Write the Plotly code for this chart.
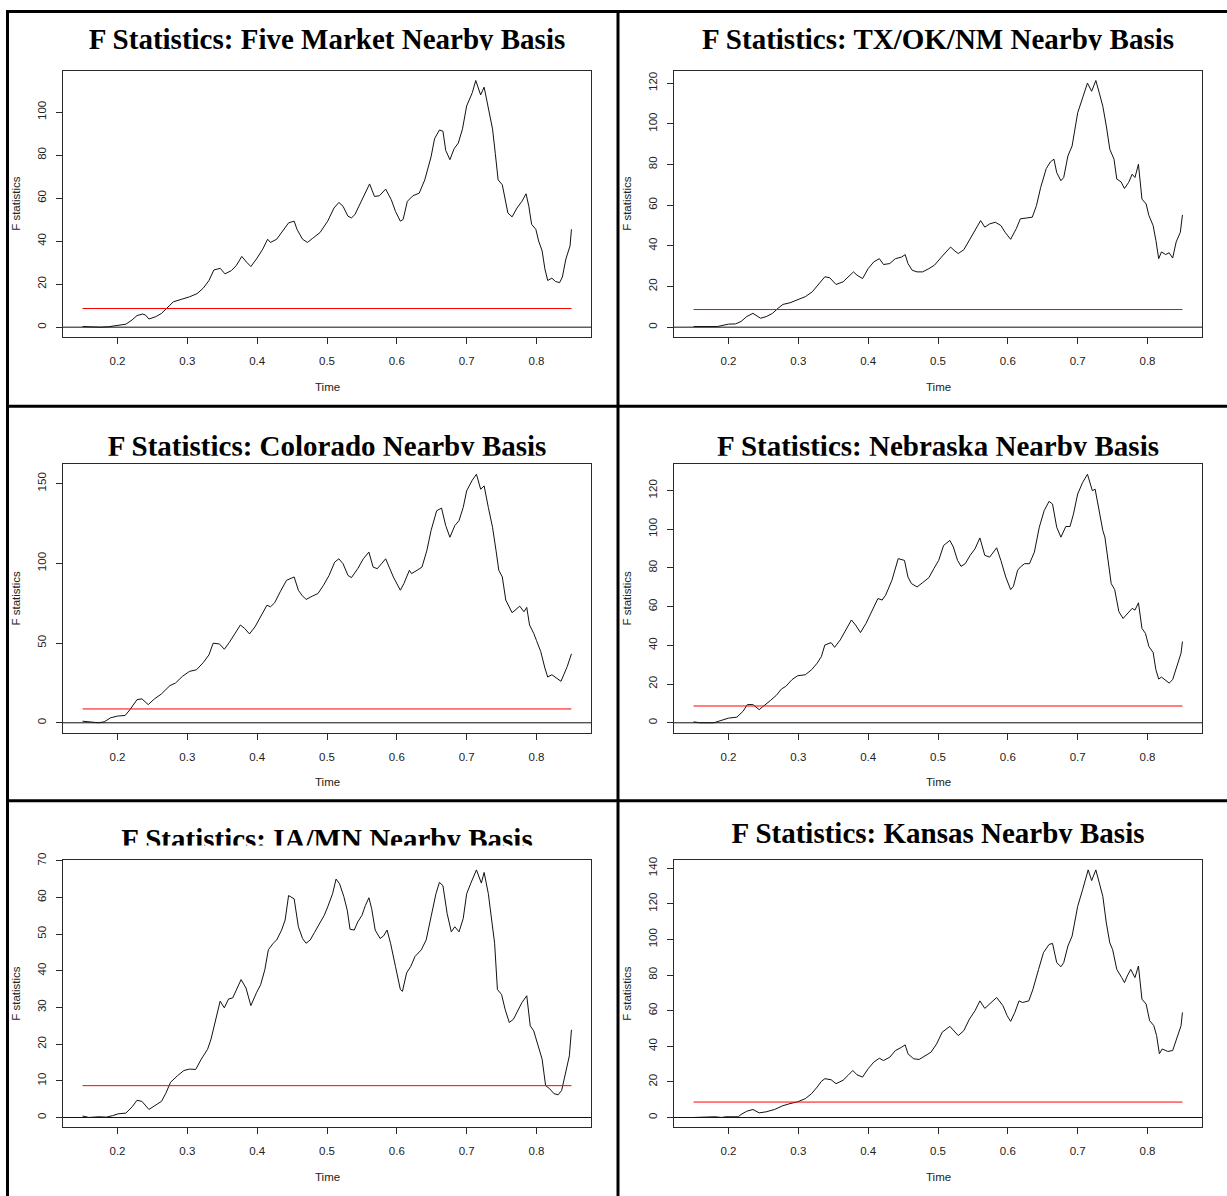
import plotly.graph_objects as go

# ---- sup-F statistics against the trimmed sample fraction (Time) ----
five_t = [0.150, 0.157, 0.165, 0.175, 0.187, 0.200, 0.212, 0.221, 0.228, 0.236, 0.240, 0.245, 0.255, 0.263,
          0.272, 0.280, 0.292, 0.303, 0.314, 0.323, 0.331, 0.338, 0.344, 0.347, 0.354, 0.363, 0.370, 0.378,
          0.385, 0.391, 0.399, 0.408, 0.415, 0.419, 0.428, 0.435, 0.445, 0.453, 0.457, 0.465, 0.472, 0.479,
          0.490, 0.501, 0.510, 0.517, 0.523, 0.530, 0.535, 0.540, 0.547, 0.555, 0.561, 0.568, 0.575, 0.584,
          0.592, 0.598, 0.605, 0.609, 0.615, 0.623, 0.632, 0.640, 0.649, 0.654, 0.661, 0.666, 0.670, 0.676,
          0.682, 0.688, 0.694, 0.700, 0.708, 0.713, 0.720, 0.725, 0.731, 0.737, 0.741, 0.745, 0.751, 0.755,
          0.759, 0.765, 0.772, 0.779, 0.785, 0.789, 0.793, 0.799, 0.803, 0.808, 0.812, 0.816, 0.822, 0.827,
          0.833, 0.837, 0.842, 0.848, 0.850]
five_f = [0.3, 0.2, 0.0, 0.0, 0.2, 0.8, 1.4, 3.4, 5.4, 6.1, 5.7, 3.8, 4.9, 6.4, 9.5, 11.8, 13.0, 14.1, 15.6,
          18.2, 21.7, 26.6, 27.1, 27.4, 24.8, 26.3, 28.6, 32.9, 30.2, 28.2, 31.7, 36.3, 40.9, 39.4, 40.9, 44.0,
          48.5, 49.3, 45.5, 40.9, 39.4, 41.2, 44.0, 49.3, 55.4, 58.0, 56.2, 51.6, 50.8, 52.4, 57.0, 62.3, 66.6,
          60.8, 61.1, 64.2, 59.3, 53.9, 49.3, 50.1, 58.5, 61.1, 62.3, 68.5, 79.2, 87.6, 91.7, 91.1, 82.2, 77.9,
          83.0, 85.6, 92.2, 102.9, 109.0, 114.7, 108.0, 111.6, 102.1, 92.2, 80.7, 68.5, 66.2, 60.0, 53.1, 51.3,
          55.4, 58.5, 62.0, 56.2, 47.8, 45.5, 40.1, 35.5, 27.1, 21.7, 22.8, 21.3, 20.7, 23.3, 31.7, 37.8, 45.5]

txoknm_t = [0.150, 0.157, 0.170, 0.184, 0.200, 0.210, 0.218, 0.226, 0.235, 0.239, 0.246, 0.254, 0.263, 0.271,
            0.278, 0.288, 0.299, 0.310, 0.320, 0.330, 0.338, 0.345, 0.354, 0.364, 0.372, 0.379, 0.384, 0.392,
            0.400, 0.408, 0.416, 0.422, 0.431, 0.439, 0.448, 0.453, 0.457, 0.463, 0.470, 0.478, 0.487, 0.495,
            0.505, 0.512, 0.518, 0.523, 0.529, 0.537, 0.546, 0.554, 0.561, 0.567, 0.574, 0.582, 0.590, 0.596,
            0.604, 0.612, 0.618, 0.627, 0.635, 0.641, 0.647, 0.655, 0.661, 0.666, 0.670, 0.676, 0.680, 0.686,
            0.692, 0.700, 0.707, 0.714, 0.720, 0.726, 0.731, 0.736, 0.741, 0.746, 0.752, 0.756, 0.762, 0.767,
            0.773, 0.778, 0.782, 0.787, 0.792, 0.798, 0.802, 0.808, 0.812, 0.816, 0.820, 0.826, 0.831, 0.836,
            0.841, 0.847, 0.850]
txoknm_f = [0.3, 0.3, 0.0, 0.3, 1.5, 1.6, 2.8, 5.2, 6.8, 6.0, 4.4, 5.2, 6.8, 9.3, 11.2, 12.0, 13.4, 15.0, 17.4,
            21.5, 24.8, 24.3, 21.0, 22.3, 24.8, 27.2, 25.6, 23.9, 28.8, 32.1, 33.7, 30.8, 31.3, 33.7, 34.5,
            35.7, 31.3, 28.0, 27.2, 27.2, 28.8, 30.5, 34.5, 37.0, 39.4, 37.8, 36.2, 38.1, 43.5, 48.0, 52.4,
            49.2, 50.8, 51.6, 50.0, 46.7, 43.2, 48.4, 53.3, 53.7, 54.1, 59.8, 68.7, 78.0, 81.3, 82.6, 76.0,
            72.0, 73.6, 84.2, 89.1, 105.4, 112.7, 120.0, 116.0, 121.3, 115.1, 108.6, 98.9, 87.5, 82.6, 72.8,
            71.5, 68.2, 71.2, 75.2, 73.6, 80.1, 63.0, 60.6, 54.9, 50.0, 42.7, 33.7, 37.0, 35.7, 36.6, 34.0,
            41.9, 46.7, 55.2]

colorado_t = [0.150, 0.161, 0.173, 0.181, 0.190, 0.200, 0.211, 0.218, 0.228, 0.235, 0.244, 0.253, 0.263, 0.275,
              0.283, 0.293, 0.303, 0.313, 0.323, 0.331, 0.337, 0.346, 0.353, 0.360, 0.368, 0.376, 0.382, 0.389,
              0.397, 0.405, 0.414, 0.419, 0.425, 0.433, 0.442, 0.453, 0.459, 0.464, 0.470, 0.479, 0.487, 0.495,
              0.503, 0.511, 0.517, 0.523, 0.530, 0.535, 0.544, 0.552, 0.560, 0.566, 0.572, 0.578, 0.584, 0.589,
              0.595, 0.605, 0.610, 0.618, 0.621, 0.629, 0.636, 0.643, 0.649, 0.657, 0.664, 0.670, 0.676, 0.683,
              0.689, 0.695, 0.700, 0.708, 0.714, 0.720, 0.725, 0.731, 0.737, 0.742, 0.746, 0.751, 0.756, 0.765,
              0.771, 0.776, 0.782, 0.786, 0.790, 0.796, 0.800, 0.806, 0.812, 0.816, 0.822, 0.829, 0.835, 0.839,
              0.844, 0.850]
colorado_f = [1.0, 0.6, 0.0, 0.6, 3.1, 4.2, 4.6, 8.3, 14.5, 15.0, 11.4, 15.0, 18.1, 23.3, 24.9, 29.1, 32.2,
              33.2, 37.8, 42.6, 49.9, 49.4, 46.1, 50.3, 56.1, 61.3, 59.2, 55.7, 60.2, 66.5, 73.7, 72.7, 75.2,
              82.1, 89.3, 91.4, 83.1, 80.0, 77.3, 79.4, 81.0, 86.2, 92.4, 100.7, 102.8, 99.7, 92.4, 91.0, 96.6,
              102.8, 107.0, 97.6, 96.6, 99.7, 102.8, 97.6, 91.4, 83.1, 87.2, 95.6, 93.5, 95.6, 97.6, 108.0,
              120.5, 132.9, 134.6, 123.6, 116.3, 123.6, 126.7, 135.0, 145.4, 152.1, 155.8, 146.4, 148.5, 135.0,
              122.6, 108.0, 95.6, 91.4, 76.9, 69.0, 71.0, 73.1, 69.6, 72.3, 61.3, 56.1, 51.5, 44.7, 34.3, 28.7,
              30.1, 28.0, 26.0, 30.1, 35.3, 43.2]

nebraska_t = [0.150, 0.159, 0.179, 0.190, 0.200, 0.212, 0.221, 0.227, 0.235, 0.244, 0.252, 0.260, 0.268, 0.276,
              0.282, 0.291, 0.299, 0.310, 0.319, 0.327, 0.333, 0.338, 0.347, 0.352, 0.360, 0.368, 0.376, 0.382,
              0.389, 0.397, 0.406, 0.414, 0.420, 0.425, 0.434, 0.443, 0.452, 0.457, 0.462, 0.470, 0.478, 0.487,
              0.494, 0.501, 0.508, 0.517, 0.522, 0.528, 0.533, 0.539, 0.546, 0.553, 0.560, 0.567, 0.574, 0.584,
              0.590, 0.597, 0.604, 0.608, 0.614, 0.618, 0.624, 0.631, 0.638, 0.645, 0.652, 0.659, 0.664, 0.670,
              0.676, 0.683, 0.689, 0.694, 0.700, 0.707, 0.714, 0.721, 0.725, 0.731, 0.736, 0.739, 0.745, 0.748,
              0.753, 0.759, 0.765, 0.773, 0.778, 0.782, 0.787, 0.792, 0.797, 0.802, 0.808, 0.812, 0.816, 0.820,
              0.826, 0.831, 0.836, 0.843, 0.848, 0.850]
nebraska_f = [0.5, 0.0, 0.0, 1.2, 2.4, 2.9, 6.0, 9.4, 9.4, 6.8, 9.4, 11.5, 14.0, 17.5, 18.8, 22.3, 24.3, 24.8,
              27.4, 30.8, 34.2, 40.2, 41.4, 39.0, 42.8, 47.9, 53.1, 50.5, 46.6, 51.4, 58.2, 64.2, 63.4, 65.9,
              73.6, 84.8, 83.9, 75.3, 71.9, 70.2, 72.4, 75.0, 79.6, 83.9, 91.6, 94.2, 90.8, 83.9, 80.8, 82.2,
              86.5, 89.9, 95.5, 86.5, 85.6, 90.4, 83.9, 75.3, 68.8, 70.5, 78.8, 80.5, 82.2, 82.2, 88.2, 101.0,
              109.6, 114.4, 113.0, 101.0, 95.9, 101.4, 101.4, 107.9, 118.2, 124.1, 128.4, 119.9, 120.7, 109.6,
              99.3, 95.9, 80.5, 71.9, 68.8, 57.4, 53.9, 57.4, 59.1, 58.2, 62.0, 48.8, 46.2, 39.4, 36.3, 27.4,
              22.6, 23.6, 21.9, 20.5, 22.3, 30.8, 36.0, 42.0]

iamn_t = [0.150, 0.159, 0.173, 0.184, 0.193, 0.201, 0.212, 0.221, 0.228, 0.235, 0.245, 0.255, 0.263, 0.269,
          0.276, 0.286, 0.295, 0.303, 0.312, 0.320, 0.329, 0.334, 0.340, 0.347, 0.353, 0.359, 0.365, 0.371,
          0.377, 0.384, 0.391, 0.399, 0.405, 0.411, 0.416, 0.423, 0.428, 0.435, 0.440, 0.445, 0.453, 0.459,
          0.465, 0.470, 0.476, 0.482, 0.490, 0.496, 0.501, 0.508, 0.513, 0.518, 0.524, 0.529, 0.533, 0.539,
          0.544, 0.550, 0.555, 0.560, 0.564, 0.569, 0.576, 0.581, 0.586, 0.591, 0.598, 0.605, 0.608, 0.614,
          0.620, 0.626, 0.635, 0.642, 0.649, 0.656, 0.661, 0.666, 0.672, 0.678, 0.683, 0.689, 0.695, 0.700,
          0.706, 0.714, 0.721, 0.725, 0.731, 0.735, 0.740, 0.744, 0.750, 0.755, 0.761, 0.767, 0.774, 0.779,
          0.786, 0.791, 0.796, 0.801, 0.808, 0.813, 0.819, 0.825, 0.831, 0.836, 0.841, 0.847, 0.850]
iamn_f = [0.4, 0.0, 0.2, 0.1, 0.5, 1.0, 1.2, 2.9, 4.7, 4.4, 2.2, 3.3, 4.4, 6.5, 9.6, 11.4, 12.8, 13.2, 13.1,
          15.9, 18.6, 21.4, 26.3, 31.7, 29.9, 32.3, 32.6, 35.0, 37.6, 35.3, 30.5, 34.0, 36.2, 40.3, 45.7, 47.5,
          48.4, 51.1, 53.8, 60.5, 59.6, 52.0, 48.8, 47.5, 48.4, 50.4, 52.9, 55.1, 57.4, 61.0, 65.0, 63.7, 60.3,
          56.5, 51.3, 51.1, 53.3, 55.1, 57.8, 59.9, 56.9, 51.1, 48.8, 49.5, 51.1, 47.5, 41.2, 34.9, 34.4, 39.4,
          41.2, 43.9, 45.7, 48.4, 54.7, 61.0, 64.1, 63.2, 55.6, 50.6, 52.0, 50.6, 54.2, 61.0, 63.9, 67.5, 63.9,
          66.8, 61.0, 54.7, 47.5, 34.9, 33.5, 29.5, 25.9, 26.8, 29.5, 31.3, 33.2, 25.0, 23.6, 20.5, 15.9, 8.7,
          7.8, 6.5, 6.2, 7.4, 11.4, 16.8, 23.9]

kansas_t = [0.150, 0.168, 0.181, 0.190, 0.196, 0.214, 0.218, 0.226, 0.235, 0.244, 0.254, 0.266, 0.277, 0.288,
            0.299, 0.310, 0.319, 0.327, 0.333, 0.338, 0.347, 0.354, 0.364, 0.371, 0.378, 0.384, 0.392, 0.400,
            0.408, 0.416, 0.422, 0.431, 0.439, 0.448, 0.453, 0.457, 0.465, 0.473, 0.482, 0.490, 0.498, 0.506,
            0.517, 0.522, 0.529, 0.537, 0.545, 0.553, 0.560, 0.567, 0.574, 0.584, 0.593, 0.599, 0.604, 0.610,
            0.616, 0.621, 0.630, 0.636, 0.644, 0.651, 0.659, 0.664, 0.670, 0.676, 0.680, 0.686, 0.692, 0.700,
            0.707, 0.715, 0.720, 0.726, 0.731, 0.736, 0.741, 0.746, 0.750, 0.756, 0.763, 0.767, 0.771, 0.776,
            0.782, 0.787, 0.792, 0.798, 0.803, 0.809, 0.813, 0.817, 0.821, 0.829, 0.836, 0.843, 0.848, 0.850]
kansas_f = [0.0, 0.4, 0.4, 0.0, 0.4, 0.4, 1.7, 3.5, 4.5, 2.6, 3.2, 4.5, 6.5, 7.8, 8.8, 10.6, 13.4, 17.1, 20.3,
            21.8, 21.2, 19.0, 20.9, 23.6, 26.4, 24.0, 22.7, 27.4, 31.1, 33.3, 32.0, 33.9, 37.6, 39.5, 40.8, 35.8,
            33.0, 32.6, 34.8, 36.7, 41.3, 47.9, 51.2, 48.8, 46.0, 48.8, 55.3, 60.0, 65.5, 61.3, 63.7, 67.4, 62.8,
            57.2, 54.0, 59.0, 65.5, 64.6, 65.5, 72.1, 83.2, 92.6, 97.2, 97.8, 87.0, 84.7, 87.0, 96.3, 101.9,
            118.6, 127.9, 139.1, 133.1, 139.1, 131.7, 124.2, 109.3, 98.1, 94.4, 83.2, 78.6, 75.8, 79.5, 83.2,
            78.6, 85.1, 66.5, 63.7, 54.4, 51.6, 46.0, 35.8, 38.5, 37.1, 37.6, 46.0, 51.6, 59.0]

panel_titles = ["F Statistics: Five Market Nearby Basis",
                "F Statistics: TX/OK/NM Nearby Basis",
                "F Statistics: Colorado Nearby Basis",
                "F Statistics: Nebraska Nearby Basis",
                "F Statistics: IA/MN Nearby Basis",
                "F Statistics: Kansas Nearby Basis"]
series = [(five_t, five_f), (txoknm_t, txoknm_f), (colorado_t, colorado_f),
          (nebraska_t, nebraska_f), (iamn_t, iamn_f), (kansas_t, kansas_f)]
y_ticks = [[0, 20, 40, 60, 80, 100],
           [0, 20, 40, 60, 80, 100, 120],
           [0, 50, 100, 150],
           [0, 20, 40, 60, 80, 100, 120],
           [0, 10, 20, 30, 40, 50, 60, 70],
           [0, 20, 40, 60, 80, 100, 120, 140]]
x_ticks = [0.2, 0.3, 0.4, 0.5, 0.6, 0.7, 0.8]
x_tick_labels = ["0.2", "0.3", "0.4", "0.5", "0.6", "0.7", "0.8"]
crit_value = 8.68
x_label = "Time"
y_label = "F statistics"

# ---- page geometry (pixels) ----
W, H = 1227, 1196
COL_X = [(63, 591), (674, 1202)]            # plot-box left/right per column
ROW_Y = [(64, 332), (460, 730), (858, 1127)]  # plot-box top/bottom per row
ROW_TOP = [6, 403, 800]                      # inner top edge of each framed row
TITLE_BASELINE = [42.5, 42.5, 452, 452, 847, 840.5]
TITLE_CLIP = [43.5, 43.5, 451.5, 451.5, 843.5, 841.5]
TITLE_SIZE = 29

SANS = "Liberation Sans, Arial, sans-serif"
SERIF = "Liberation Serif, Times New Roman, serif"
TICK_FONT = dict(family=SANS, size=11.5, color="#222222")
BOX = "#2b2b2b"


def fx(p):
    return p / W


def fy(p):
    return 1 - p / H


def padded(vals):
    # R's default "r" axis style: data range widened by 4% on each side
    lo, hi = min(vals), max(vals)
    pad = 0.04 * (hi - lo)
    return [lo - pad, hi + pad]


fig = go.Figure()
layout = {}
shapes = []
annotations = []

for i, (title, (t, f), yt) in enumerate(zip(panel_titles, series, y_ticks)):
    row, col = divmod(i, 2)
    left, right = COL_X[col]
    top, bottom = ROW_Y[row]
    n = i + 1
    sfx = "" if n == 1 else str(n)
    xa, ya = "x" + sfx, "y" + sfx

    layout["xaxis" + sfx] = dict(
        domain=[fx(left), fx(right)], range=padded(t), anchor=ya,
        tickmode="array", tickvals=x_ticks, ticktext=x_tick_labels,
        ticks="outside", ticklen=6, tickwidth=1, tickcolor=BOX,
        showline=True, mirror=True, linecolor=BOX, linewidth=1,
        showgrid=False, zeroline=False, tickfont=TICK_FONT, ticklabelstandoff=7,
    )
    layout["yaxis" + sfx] = dict(
        domain=[fy(bottom), fy(top)], range=padded(f), anchor=xa,
        tickmode="array", tickvals=yt, tickangle=-90,
        ticks="outside", ticklen=6, tickwidth=1, tickcolor=BOX,
        showline=True, mirror=True, linecolor=BOX, linewidth=1,
        showgrid=False, zeroline=False, tickfont=TICK_FONT, ticklabelstandoff=5,
    )

    fig.add_trace(go.Scatter(x=t, y=f, mode="lines", line=dict(color="#111111", width=1),
                             xaxis=xa, yaxis=ya, showlegend=False, hoverinfo="skip"))
    fig.add_trace(go.Scatter(x=[t[0], t[-1]], y=[crit_value, crit_value], mode="lines",
                             line=dict(color="#ff0000", width=1),
                             xaxis=xa, yaxis=ya, showlegend=False, hoverinfo="skip"))
    # horizontal reference at zero across the whole plot region
    shapes.append(dict(type="line", xref=xa + " domain", yref=ya, x0=0, x1=1, y0=0, y1=0,
                       line=dict(color="#111111", width=1), layer="above"))

    annotations.append(dict(text=x_label, xref="paper", yref="paper",
                            x=fx((left + right) / 2), y=fy(bottom + 50),
                            xanchor="center", yanchor="middle", showarrow=False,
                            font=dict(family=SANS, size=11.5, color="#222222")))
    annotations.append(dict(text=y_label, xref="paper", yref="paper",
                            x=fx(left - 47), y=fy((top + bottom) / 2), textangle=-90,
                            xanchor="center", yanchor="middle", showarrow=False,
                            font=dict(family=SANS, size=11.5, color="#222222")))

    # title drawn in its own strip so the strip's lower edge trims the glyphs
    m = n + 6
    tx, ty = "x%d" % m, "y%d" % m
    clip = TITLE_CLIP[i]
    base = TITLE_BASELINE[i]
    strip_top = ROW_TOP[row]
    layout["xaxis%d" % m] = dict(domain=[fx(left), fx(right)], range=[0, 1], anchor=ty, visible=False)
    layout["yaxis%d" % m] = dict(domain=[fy(clip), fy(strip_top)], range=[-clip, -strip_top],
                                 anchor=tx, visible=False)
    fig.add_trace(go.Scatter(x=[0.5], y=[-(base - 0.25 * TITLE_SIZE)], mode="text", text=[title],
                             textposition="middle center", cliponaxis=True,
                             textfont=dict(family=SERIF, size=TITLE_SIZE, color="#000000", weight="bold"),
                             xaxis=tx, yaxis=ty, showlegend=False, hoverinfo="skip"))

# frame lines separating the six panels
FRAME = dict(color="#000000", width=3)
for yy in (4.5, 401.5, 798.5):
    shapes.append(dict(type="line", xref="paper", yref="paper", x0=fx(7), x1=1.0,
                       y0=fy(yy), y1=fy(yy), line=FRAME))
for xx in (7.5, 618):
    shapes.append(dict(type="line", xref="paper", yref="paper", x0=fx(xx), x1=fx(xx),
                       y0=fy(3), y1=0.0, line=FRAME))

fig.update_layout(
    width=W, height=H, margin=dict(l=0, r=0, t=0, b=0),
    paper_bgcolor="white", plot_bgcolor="white",
    shapes=shapes, annotations=annotations, showlegend=False,
    **layout,
)

fig.write_html("out.html", config={"displayModeBar": False})
